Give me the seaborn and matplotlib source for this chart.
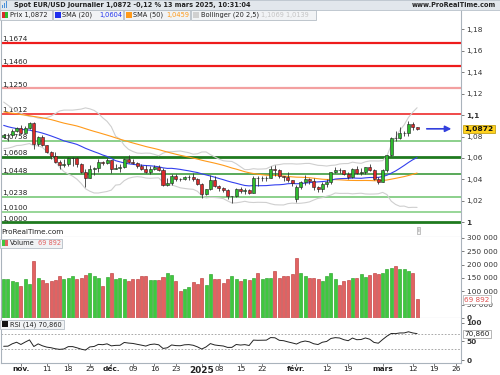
import numpy as np
import pandas as pd
import matplotlib
matplotlib.use("Agg")
import matplotlib.pyplot as plt
import seaborn as sns
from matplotlib.patches import Rectangle

# closes before the visible window (warm-up for SMA / Bollinger / RSI)
prior_close = [1.1028, 1.1075, 1.1130, 1.1151, 1.1113, 1.1193, 1.1161, 1.1184, 1.1120, 1.1077,
               1.1048, 1.1069, 1.1045, 1.1087, 1.1111, 1.1084, 1.1039, 1.1017, 1.1012, 1.1075,
               1.1075, 1.1133, 1.1114, 1.1117, 1.1162, 1.1163, 1.1111, 1.1178, 1.1134, 1.1177,
               1.1164, 1.1135, 1.1068, 1.1047, 1.1031, 1.0975, 1.0975, 1.0979, 1.0942, 1.0936,
               1.0937, 1.0910, 1.0891, 1.0862, 1.0833, 1.0866, 1.0816, 1.0797, 1.0780, 1.0827,
               1.0797]

# daily candles 28 oct 2024 -> 13 mars 2025 (trading days)
opens = [1.0797, 1.0815, 1.0817, 1.0856, 1.0884, 1.0833, 1.0880, 1.0930, 1.0728, 1.0800,
         1.0719, 1.0655, 1.0623, 1.0565, 1.0530, 1.0540, 1.0597, 1.0598, 1.0544, 1.0472,
         1.0417, 1.0496, 1.0508, 1.0566, 1.0553, 1.0577, 1.0497, 1.0510, 1.0512, 1.0587,
         1.0567, 1.0555, 1.0527, 1.0499, 1.0467, 1.0501, 1.0512, 1.0490, 1.0350, 1.0364,
         1.0430, 1.0406, 1.0401, 1.0422, 1.0426, 1.0407, 1.0354, 1.0265, 1.0309, 1.0390,
         1.0340, 1.0318, 1.0301, 1.0244, 1.0245, 1.0310, 1.0290, 1.0300, 1.0272, 1.0416,
         1.0410, 1.0413, 1.0415, 1.0495, 1.0490, 1.0430, 1.0420, 1.0390, 1.0215, 1.0330,
         1.0378, 1.0403, 1.0382, 1.0330, 1.0308, 1.0360, 1.0380, 1.0465, 1.0492, 1.0484,
         1.0446, 1.0422, 1.0500, 1.0460, 1.0466, 1.0513, 1.0485, 1.0400, 1.0376, 1.0485,
         1.0626, 1.0790, 1.0785, 1.0833, 1.0834, 1.0919, 1.0889]
highs = [1.0826, 1.0837, 1.0871, 1.0887, 1.0905, 1.0896, 1.0937, 1.0937, 1.0806, 1.0815,
         1.0724, 1.0668, 1.0654, 1.0583, 1.0593, 1.0609, 1.0610, 1.0609, 1.0550, 1.0497,
         1.0536, 1.0515, 1.0588, 1.0573, 1.0596, 1.0578, 1.0540, 1.0546, 1.0596, 1.0630,
         1.0595, 1.0566, 1.0540, 1.0530, 1.0524, 1.0536, 1.0535, 1.0508, 1.0410, 1.0446,
         1.0446, 1.0413, 1.0432, 1.0444, 1.0456, 1.0415, 1.0367, 1.0314, 1.0437, 1.0436,
         1.0348, 1.0332, 1.0312, 1.0248, 1.0321, 1.0327, 1.0318, 1.0310, 1.0433, 1.0432,
         1.0433, 1.0430, 1.0522, 1.0534, 1.0497, 1.0435, 1.0467, 1.0399, 1.0350, 1.0387,
         1.0443, 1.0414, 1.0412, 1.0340, 1.0374, 1.0408, 1.0467, 1.0514, 1.0505, 1.0490,
         1.0466, 1.0505, 1.0528, 1.0505, 1.0520, 1.0546, 1.0493, 1.0418, 1.0498, 1.0630,
         1.0796, 1.0854, 1.0888, 1.0850, 1.0947, 1.0937, 1.0892]
lows = [1.0790, 1.0761, 1.0808, 1.0838, 1.0823, 1.0832, 1.0870, 1.0683, 1.0710, 1.0708,
        1.0649, 1.0595, 1.0555, 1.0497, 1.0520, 1.0525, 1.0522, 1.0520, 1.0462, 1.0332,
        1.0410, 1.0445, 1.0470, 1.0538, 1.0546, 1.0460, 1.0493, 1.0473, 1.0505, 1.0555,
        1.0540, 1.0510, 1.0485, 1.0460, 1.0452, 1.0486, 1.0477, 1.0343, 1.0343, 1.0344,
        1.0385, 1.0383, 1.0397, 1.0395, 1.0387, 1.0344, 1.0226, 1.0255, 1.0300, 1.0330,
        1.0291, 1.0287, 1.0214, 1.0178, 1.0240, 1.0270, 1.0267, 1.0260, 1.0270, 1.0338,
        1.0386, 1.0385, 1.0410, 1.0433, 1.0410, 1.0389, 1.0380, 1.0340, 1.0185, 1.0310,
        1.0347, 1.0361, 1.0302, 1.0285, 1.0287, 1.0330, 1.0358, 1.0460, 1.0460, 1.0437,
        1.0400, 1.0410, 1.0455, 1.0440, 1.0455, 1.0480, 1.0393, 1.0359, 1.0372, 1.0470,
        1.0620, 1.0760, 1.0774, 1.0804, 1.0807, 1.0860, 1.0860]
closes = [1.0815, 1.0817, 1.0856, 1.0884, 1.0833, 1.0880, 1.0930, 1.0728, 1.0800, 1.0719,
          1.0655, 1.0623, 1.0565, 1.0530, 1.0540, 1.0597, 1.0598, 1.0544, 1.0472, 1.0417,
          1.0496, 1.0508, 1.0566, 1.0553, 1.0577, 1.0497, 1.0510, 1.0512, 1.0587, 1.0567,
          1.0555, 1.0527, 1.0499, 1.0467, 1.0501, 1.0512, 1.0490, 1.0350, 1.0364, 1.0430,
          1.0406, 1.0401, 1.0422, 1.0426, 1.0407, 1.0354, 1.0265, 1.0309, 1.0390, 1.0340,
          1.0318, 1.0301, 1.0244, 1.0245, 1.0310, 1.0290, 1.0300, 1.0272, 1.0416, 1.0410,
          1.0413, 1.0415, 1.0495, 1.0490, 1.0430, 1.0420, 1.0390, 1.0362, 1.0330, 1.0378,
          1.0403, 1.0382, 1.0330, 1.0308, 1.0360, 1.0380, 1.0465, 1.0492, 1.0484, 1.0446,
          1.0422, 1.0500, 1.0460, 1.0466, 1.0513, 1.0485, 1.0400, 1.0376, 1.0485, 1.0626,
          1.0790, 1.0785, 1.0833, 1.0834, 1.0919, 1.0889, 1.0872]
volume = [147500, 147500, 137500, 135000, 119000, 147500, 129000, 215000, 151000, 144000,
          132500, 140000, 144000, 157500, 145000, 151000, 159000, 145000, 150000, 162500,
          169000, 157500, 151000, 121000, 155000, 170000, 147500, 151000, 145000, 137500,
          145000, 145000, 157500, 157500, 141000, 144000, 141000, 154000, 169000, 160000,
          140000, 102500, 110000, 117500, 134000, 129000, 149000, 124000, 166000, 147500,
          147500, 132500, 147500, 157500, 147500, 139000, 147500, 141000, 151000, 170000,
          147500, 151000, 151000, 176000, 151000, 157500, 156000, 164000, 226000, 169000,
          157500, 151000, 151000, 145000, 140000, 157500, 169000, 147500, 122500, 139000,
          144000, 151000, 151000, 166000, 155000, 160000, 169000, 164000, 169000, 184000,
          189000, 196000, 184000, 184000, 176000, 169000, 69892]

tick_pos = [4, 10, 15, 20, 25, 30, 35, 40, 46, 50, 55, 60, 68, 75, 80, 88, 95, 100, 105]
tick_lab = ["nov.", "11", "18", "25", "déc.", "09", "16", "23", "2025", "08", "15", "22",
            "févr.", "12", "19", "mars", "12", "19", "26"]
month_lab = ["nov.", "déc.", "2025", "févr.", "mars"]

res_levels = [1.1674, 1.1460, 1.1250, 1.1012]
res_colors = ["#ee1c1c", "#ee1c1c", "#f3a0a0", "#ee2a2a"]
res_widths = [1.6, 1.6, 1.6, 1.2]
sup_levels = [1.0758, 1.0608, 1.0448, 1.0238, 1.0100, 1.0000]
sup_colors = ["#6cc46c", "#1f7a1f", "#3d9b3d", "#6cc46c", "#7ccc7c", "#1f7a1f"]
sup_widths = [1.1, 2.0, 1.2, 1.1, 1.1, 2.0]

# indicators
allc = pd.Series(prior_close + closes)
sma20 = allc.rolling(20).mean()
sma50 = allc.rolling(50).mean()
std20 = allc.rolling(20).std(ddof=0)
bb_up = sma20 + 2.5 * std20
bb_dn = sma20 - 2.5 * std20
diff = allc.diff()
gain = diff.clip(lower=0).ewm(alpha=1 / 14, adjust=False).mean()
loss = (-diff.clip(upper=0)).ewm(alpha=1 / 14, adjust=False).mean()
rsi = 100 - 100 / (1 + gain / loss)
n0 = len(prior_close)
idx = np.arange(len(closes))

sns.set_theme(style="white")
plt.rcParams["font.family"] = ["DejaVu Sans"]

fig = plt.figure(figsize=(5, 3.75), dpi=100)
fig.patch.set_facecolor("white")


def fx(px):
    return px / 500


def fy(py):
    return 1 - py / 375


ax = fig.add_axes([0.002, fy(237), fx(460), fy(10) - fy(237)])
axv = fig.add_axes([0.002, fy(318), fx(460), fy(237) - fy(318)], sharex=ax)
axr = fig.add_axes([0.002, fy(362.5), fx(460), fy(318) - fy(362.5)], sharex=ax)

spine_col = "#aab3bc"
for a in (ax, axv, axr):
    for s in a.spines.values():
        s.set_color(spine_col)
        s.set_linewidth(0.8)
    a.spines["top"].set_visible(False)
    a.yaxis.tick_right()
    a.tick_params(axis="y", labelsize=5.3, length=2.5, width=0.6, color="#666666",
                  pad=1.5, labelcolor="#333333")
    a.set_facecolor("white")

# price panel
for lv, c, w in zip(res_levels, res_colors, res_widths):
    ax.axhline(lv, color=c, lw=w, zorder=1)
for lv, c, w in zip(sup_levels, sup_colors, sup_widths):
    ax.axhline(lv, color=c, lw=w, zorder=1)
for lv in res_levels + sup_levels:
    ax.text(-0.45, lv + 0.0007, f"{lv:.4f}".replace(".", ","), fontsize=5.2,
            color="#222222", va="bottom", ha="left", zorder=1.5)

sns.lineplot(x=idx, y=bb_up.values[n0:], ax=ax, color="#cfcfcf", lw=0.8, zorder=2)
sns.lineplot(x=idx, y=bb_dn.values[n0:], ax=ax, color="#cfcfcf", lw=0.8, zorder=2)
sns.lineplot(x=idx, y=sma50.values[n0:], ax=ax, color="#ff9a1a", lw=0.8, zorder=2)
sns.lineplot(x=idx, y=sma20.values[n0:], ax=ax, color="#3340ee", lw=0.8, zorder=2)

o = np.array(opens)
c = np.array(closes)
up = c >= o
ax.vlines(idx, lows, highs, color="#333333", lw=0.6, zorder=3)
body_h = np.maximum(np.abs(c - o), 0.00025)
ax.bar(idx, body_h, bottom=np.minimum(o, c), width=0.7,
       color=np.where(up, "#2dbb2d", "#d92b2b"), edgecolor="#222222", linewidth=0.4,
       zorder=4)

ax.annotate("", xy=(104.6, closes[-1]), xytext=(97.6, closes[-1]),
            arrowprops=dict(arrowstyle="-|>", color="#3340dd", lw=1.2, mutation_scale=9),
            zorder=5)

ax.set_ylim(0.98629, 1.19804)
ax.set_xlim(-0.62, 106.2)
yt = np.round(np.arange(1.0, 1.1801, 0.02), 2)
ax.set_yticks(yt)
ylabs = [f"{v:.2f}".rstrip("0").rstrip(".").replace(".", ",") for v in yt]
ax.set_yticklabels(ylabs)
for t in ax.get_yticklabels():
    if t.get_text() in ("1", "1,1"):
        t.set_fontweight("bold")
ax.tick_params(axis="x", bottom=False, labelbottom=False)
ax.set_xlabel("")
ax.set_ylabel("")

# volume panel
dir_up = np.diff(np.array([prior_close[-1]] + closes)) >= 0
axv.bar(idx, volume, width=0.7, color=np.where(dir_up, "#3fc83f", "#e26262"),
        edgecolor=np.where(dir_up, "#1f9c1f", "#b83232"), linewidth=0.4, zorder=2)
axv.set_ylim(0, 303750)
vt = np.arange(0, 300001, 50000)
axv.set_yticks(vt)
axv.set_yticklabels([f"{v:,}".replace(",", " ") for v in vt])
axv.get_yticklabels()[0].set_fontweight("bold")
axv.tick_params(axis="x", bottom=False, labelbottom=False)

# RSI panel
sns.lineplot(x=idx, y=rsi.values[n0:], ax=axr, color="#222222", lw=0.7, zorder=2)
for lv in (70, 30):
    axr.axhline(lv, color="#9a9a9a", lw=0.6, ls=(0, (2, 2)), zorder=1)
axr.set_ylim(-6.5, 112.7)
axr.set_yticks([0, 50, 100])
axr.set_yticklabels(["0", "50", "100"], fontweight="bold")
axr.set_xticks(tick_pos)
axr.set_xticklabels(tick_lab)
axr.tick_params(axis="x", labelsize=5.3, length=1.8, width=0.6, color="#666666",
                pad=0.6, labelcolor="#222222", bottom=True)
for t in axr.get_xticklabels():
    if t.get_text() in month_lab:
        t.set_fontweight("bold")
    if t.get_text() == "2025":
        t.set_fontsize(6.4)
axr.set_xlabel("")
axr.set_ylabel("")
axr.set_xlim(-0.62, 106.2)

# header bar
fig.patches.append(Rectangle((0, fy(9.5)), 1, fy(0) - fy(9.5), transform=fig.transFigure,
                             facecolor="#e2e7ec", edgecolor="#b9c2ca", lw=0.6, zorder=5))
for k, hh in enumerate([3, 5, 7]):
    fig.patches.append(Rectangle((fx(2 + 2 * k), fy(8)), fx(1.2), hh / 375,
                                 transform=fig.transFigure, facecolor="#4a90d9",
                                 edgecolor="none", zorder=6))
fig.text(fx(14), fy(4.8), "Spot EUR/USD Journalier 1,0872 -0,12 % 13 mars 2025, 10:31:04",
         fontsize=4.7, fontweight="bold", color="#222222", va="center", ha="left", zorder=7)
fig.text(fx(496), fy(4.8), "www.ProRealTime.com", fontsize=4.7, fontweight="bold",
         color="#222222", va="center", ha="right", zorder=7)


def legend_box(x0, x1, y0, y1):
    fig.patches.append(Rectangle((fx(x0), fy(y1)), fx(x1 - x0), (y1 - y0) / 375,
                                 transform=fig.transFigure, facecolor="#f1f3f5",
                                 edgecolor="#b5bdc5", lw=0.6, zorder=6))


def swatch(x0, y0, col, col2=None):
    fig.patches.append(Rectangle((fx(x0), fy(y0 + 6)), fx(6), 6 / 375,
                                 transform=fig.transFigure, facecolor=col,
                                 edgecolor="none", zorder=7))
    if col2:
        fig.patches.append(Rectangle((fx(x0 + 3), fy(y0 + 6)), fx(3), 6 / 375,
                                     transform=fig.transFigure, facecolor=col2,
                                     edgecolor="none", zorder=7))


def ltxt(x, y, s, col="#222222"):
    fig.text(fx(x), fy(y), s, fontsize=4.8, color=col, va="center", ha="left", zorder=8)


# legend row of the price panel
legend_box(0, 52, 10, 19.5)
swatch(1.5, 11.8, "#d92b2b", "#2dbb2d")
ltxt(9.5, 14.8, "Prix 1,0872")
legend_box(53, 123, 10, 19.5)
swatch(54.5, 11.8, "#1f2fee")
ltxt(62, 14.8, "SMA (20)")
ltxt(99.5, 14.8, "1,0604", "#2233ee")
legend_box(124, 190, 10, 19.5)
swatch(125.5, 11.8, "#ff9a1a")
ltxt(133, 14.8, "SMA (50)")
ltxt(166.5, 14.8, "1,0459", "#ff9a1a")
legend_box(191, 316, 10, 19.5)
swatch(192.5, 11.8, "#d0d0d0")
ltxt(201, 14.8, "Bollinger (20 2,5)")
ltxt(261, 14.8, "1,1069 1,0139", "#c4c4c4")

fig.text(fx(1), fy(232.5), "ProRealTime.com", fontsize=5.2, color="#222222",
         va="center", ha="left", zorder=8)
fig.text(fx(418.5), fy(230.5), "i", fontsize=4.5, color="#777777", va="center",
         ha="center", zorder=8,
         bbox=dict(boxstyle="square,pad=0.15", fc="#f4f4f4", ec="#aaaaaa", lw=0.5))

# volume / RSI legends
legend_box(0, 62, 238.5, 248)
swatch(1.5, 240.3, "#3fc83f", "#e26262")
ltxt(9.5, 243.3, "Volume")
ltxt(37.5, 243.3, "69 892", "#e26262")
legend_box(0, 64, 319.5, 329)
swatch(1.5, 321.3, "#111111")
ltxt(9.5, 324.3, "RSI (14) 70,860")

# value tags on the right axis
fig.text(fx(464.5), fy(129), "1,0872", fontsize=5.4, fontweight="bold", color="#111111",
         va="center", ha="left", zorder=8,
         bbox=dict(boxstyle="square,pad=0.15", fc="#ffd21f", ec="#b89400", lw=0.5))
fig.text(fx(464.5), fy(299.5), "69 892", fontsize=5.2, color="#e05050", va="center",
         ha="left", zorder=8,
         bbox=dict(boxstyle="square,pad=0.15", fc="white", ec="#aaaaaa", lw=0.5))
fig.text(fx(464.5), fy(334), "70,860", fontsize=5.2, color="#222222", va="center",
         ha="left", zorder=8,
         bbox=dict(boxstyle="square,pad=0.15", fc="white", ec="#999999", lw=0.5))

fig.savefig("out.png", dpi=100)
